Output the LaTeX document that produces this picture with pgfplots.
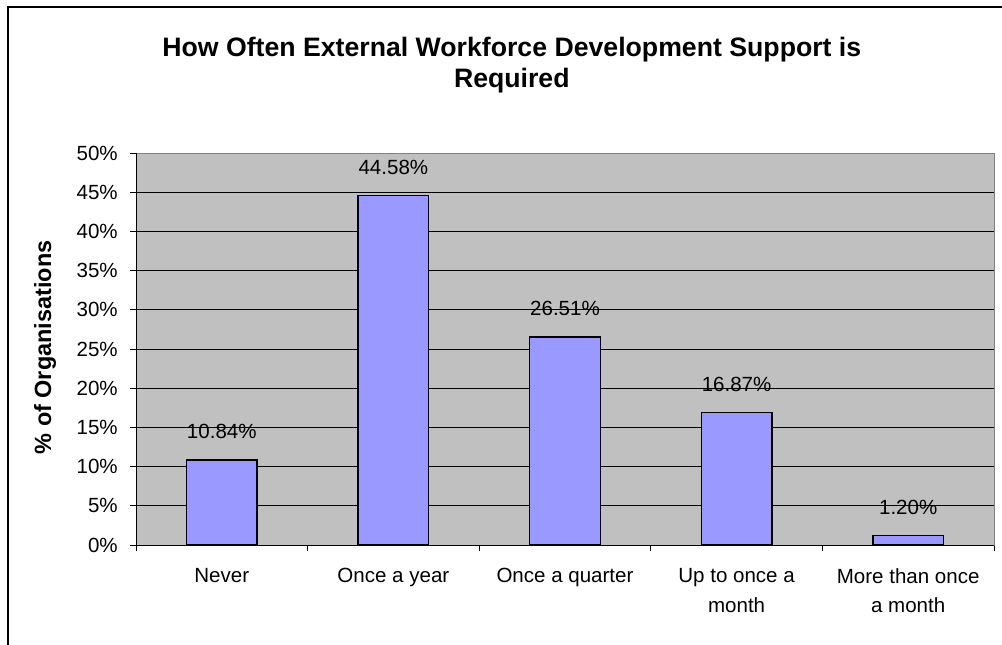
\documentclass[border=0pt]{standalone}
\usepackage{pgfplots}
\pgfplotsset{compat=1.18}
\usepackage{fontspec}
\setmainfont{Liberation Sans}
\definecolor{plotgray}{HTML}{C0C0C0}
\definecolor{barblue}{HTML}{9999FF}
\definecolor{bordergray}{HTML}{808080}
\newcommand{\tickfont}{\fontsize{15.4}{22}\selectfont}
\begin{document}
\begin{tikzpicture}
\useasboundingbox (0pt,0pt) rectangle (751.5pt,483pt);
\draw[line width=1.5pt] (6pt,-5pt) -- (6pt,477.75pt) -- (760pt,477.75pt);
\begin{axis}[
  at={(102pt,74.25pt)}, anchor=south west,
  scale only axis, width=643.5pt, height=294pt,
  xmin=-0.5, xmax=4.5, ymin=0, ymax=50,
  /pgf/number format/assume math mode=true,
  ytick={0,5,...,50},
  yticklabel={\pgfmathprintnumber{\tick}\%},
  yticklabel style={font=\tickfont, inner sep=0pt, xshift=-9pt},
  xtick={-0.5,0.5,1.5,2.5,3.5,4.5},
  xticklabels={,,,,,},
  extra x ticks={0,1,2,3,4},
  extra x tick labels={Never, Once a year, Once a quarter, {Up to once a\\month}, {More than once\\a month}},
  extra x tick style={major tick length=0pt, xticklabel style={font=\tickfont, align=center, inner sep=0pt, anchor=north, yshift=-17.5pt}},
  tick align=outside, tick pos=left,
  major tick length=4.5pt,
  tick style={black, line width=0.75pt},
  ymajorgrids, grid style={black, line width=0.75pt},
  axis line style={draw=bordergray, line width=0.75pt},
  axis background/.style={fill=plotgray},
  title={How Often External Workforce Development Support is\\Required},
  title style={font=\bfseries\fontsize{20}{23}\selectfont, align=center, at={(axis description cs:0.438,1.204)}, anchor=center},
  ylabel={\% of Organisations},
  ylabel style={font=\bfseries\fontsize{17.6}{20}\selectfont, at={(axis description cs:-0.106,0.504)}, anchor=center},
  nodes near coords={\pgfmathprintnumber[fixed,fixed zerofill,precision=2]{\pgfplotspointmeta}\%},
  nodes near coords style={font=\tickfont, anchor=south, inner sep=0pt, yshift=15.4pt},
]
\addplot[ybar, bar width=52.9pt, fill=barblue, draw=black, line width=1pt]
  coordinates {(0,10.84) (1,44.58) (2,26.51) (3,16.87) (4,1.20)};
\draw[black, line width=0.75pt] (rel axis cs:0,1) -- (rel axis cs:0,0) -- (rel axis cs:1,0);
\end{axis}
\end{tikzpicture}
\end{document}
